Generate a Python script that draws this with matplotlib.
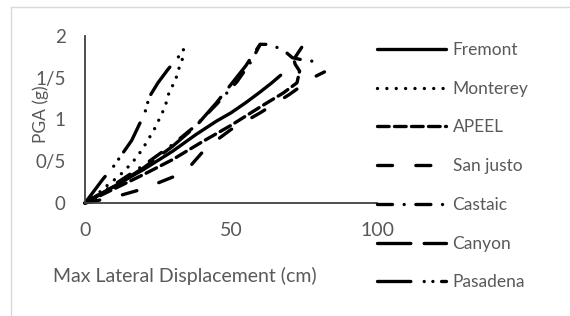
import numpy as np
import matplotlib.pyplot as plt
from matplotlib.lines import Line2D

plt.rcParams['font.family'] = ['Lato', 'DejaVu Sans']

# series (displacement cm, PGA g)
fremont_x = [0, 10, 20, 30, 38, 45, 50, 55, 60, 64, 67]
fremont_y = [0, 0.2, 0.4, 0.62, 0.82, 0.98, 1.08, 1.2, 1.33, 1.44, 1.53]

monterey_x = [0, 4, 8.6, 11.3, 14.7, 17.8, 21, 24, 27.4, 29, 30.8, 32.5, 34]
monterey_y = [0, 0.1, 0.24, 0.31, 0.43, 0.55, 0.72, 0.9, 1.15, 1.35, 1.45, 1.65, 1.78]

apeel_x = [0, 10, 20, 30, 40, 50, 60, 68, 72.6, 73.5, 72, 71.5, 74.7]
apeel_y = [0, 0.17, 0.34, 0.52, 0.73, 0.93, 1.15, 1.32, 1.44, 1.58, 1.66, 1.72, 1.89]

sanjusto_x = [0, 10, 20, 30, 35, 40, 45, 50, 60, 70, 78, 82]
sanjusto_y = [0, 0.07, 0.17, 0.31, 0.4, 0.6, 0.75, 0.88, 1.08, 1.3, 1.5, 1.57]

castaic_x = [0, 10, 20, 30, 38, 45, 52, 57, 60, 63, 66, 69, 71, 75, 80]
castaic_y = [0, 0.22, 0.45, 0.7, 0.93, 1.18, 1.45, 1.7, 1.9, 1.9, 1.86, 1.8, 1.74, 1.71, 1.69]

canyon_x = [0, 10, 20, 30, 38, 45, 50, 55, 58, 60]
canyon_y = [0, 0.2, 0.42, 0.68, 0.92, 1.2, 1.42, 1.64, 1.8, 1.9]

pasadena_x = [0, 6, 9.6, 13, 16, 20.5, 22, 25, 28.4, 32, 35]
pasadena_y = [0, 0.28, 0.43, 0.6, 0.75, 1.08, 1.27, 1.44, 1.6, 1.75, 1.9]

names = ['Fremont', 'Monterey', 'APEEL', 'San justo', 'Castaic', 'Canyon', 'Pasadena']
xs = [fremont_x, monterey_x, apeel_x, sanjusto_x, castaic_x, canyon_x, pasadena_x]
ys = [fremont_y, monterey_y, apeel_y, sanjusto_y, castaic_y, canyon_y, pasadena_y]
dashes = [
    None,
    (0.01, 2.8),
    (3.5, 1.6),
    (4.5, 7),
    (4.5, 3.5, 0.01, 3.5),
    (10, 4),
    (10, 4, 0.01, 2.6, 0.01, 2.6),
]

ytick_vals = [0, 0.5, 1, 1.5, 2]
ytick_text = ['0', '0/5', '1', '1/5', '2']
xtick_vals = [0, 50, 100]

fig = plt.figure(figsize=(5.7, 3.16), dpi=100)
ax = fig.add_axes([85 / 570, 1 - 203 / 316, (377 - 85) / 570, (203 - 36) / 316])

for name, x, y, d in zip(names, xs, ys, dashes):
    line, = ax.plot(x, y, color='black', lw=2.4, label=name,
                    solid_capstyle='round', dash_capstyle='round', clip_on=False)
    if d is not None:
        line.set_dashes(d)

ax.set_xlim(0, 100)
ax.set_ylim(0, 2)
ax.set_xticks(xtick_vals)
ax.set_yticks(ytick_vals)
ax.set_yticklabels(ytick_text)
ax.tick_params(length=0, colors='#595959')
ax.tick_params(axis='x', labelsize=14, pad=14)
ax.tick_params(axis='y', labelsize=13.5, pad=14)
for s in ['top', 'right']:
    ax.spines[s].set_visible(False)
for s in ['left', 'bottom']:
    ax.spines[s].set_color('#404040')
    ax.spines[s].set_linewidth(1.3)

fig.text(185 / 570, 1 - 276 / 316, 'Max Lateral Displacement (cm)', ha='center', va='center',
         color='#595959', fontsize=14)
fig.text(41 / 570, 1 - 114 / 316, 'PGA (g)', ha='center', va='center', rotation=90,
         color='#595959', fontsize=12.5)

ax.legend(loc='upper left', bbox_to_anchor=(377 / 570, 1 - 42 / 316),
          bbox_transform=fig.transFigure, frameon=False, fontsize=12.5,
          handlelength=4.0, handletextpad=0.35, labelspacing=1.31,
          borderpad=0, borderaxespad=0, labelcolor='#595959')

# light chart-area border
fig.add_artist(Line2D([11 / 570, 11 / 570], [0, 1 - 7 / 316], color='#d9d9d9', lw=1,
                      transform=fig.transFigure))
fig.add_artist(Line2D([11 / 570, 1], [1 - 7 / 316, 1 - 7 / 316], color='#d9d9d9', lw=1,
                      transform=fig.transFigure))

fig.savefig('out.png', dpi=100)
